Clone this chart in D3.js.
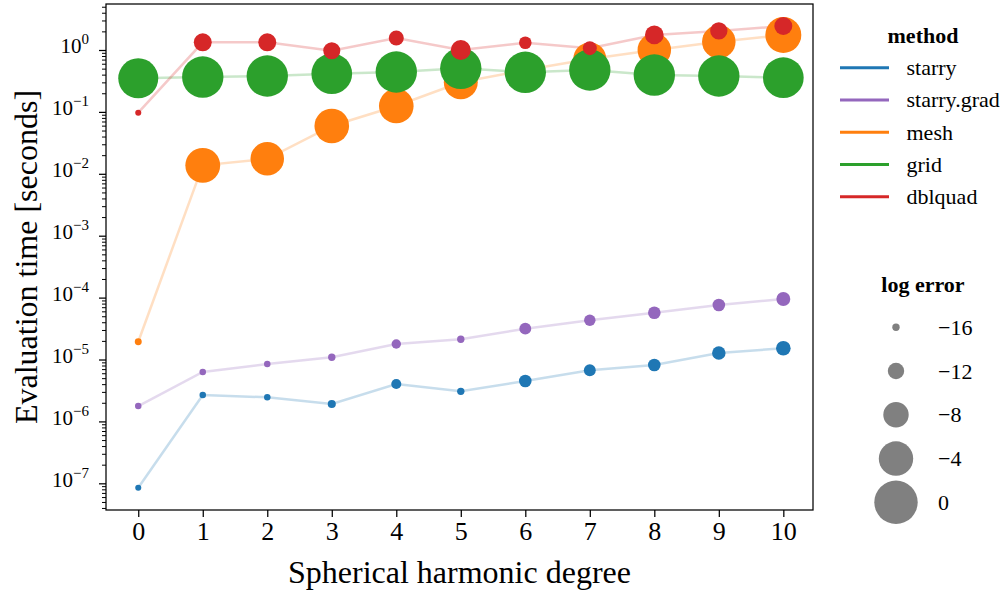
<!DOCTYPE html>
<html><head><meta charset="utf-8">
<script src="https://cdn.jsdelivr.net/npm/d3@7"></script>
<style>
body{margin:0;background:#fff;}
svg{display:block;font-family:"Liberation Serif","Times New Roman",serif;}
</style></head>
<body><svg id="c" width="1008" height="592"></svg>
<script>
const degrees = [0,1,2,3,4,5,6,7,8,9,10];
const methods = ["starry","starry.grad","mesh","grid","dblquad"];
const methodColors = ["#1f77b4","#9467bd","#ff7f0e","#2ca02c","#d62728"];

const starryTime = [8.5e-8,2.67e-6,2.45e-6,1.91e-6,4.02e-6,3.06e-6,4.5e-6,6.7e-6,8.15e-6,1.27e-5,1.52e-5];
const starryErr  = [-16.6,-16.4,-16.4,-15.7,-14.8,-16.0,-13.7,-14.0,-13.7,-13.3,-12.8];
const gradTime   = [1.77e-6,6.28e-6,8.45e-6,1.09e-5,1.78e-5,2.12e-5,3.15e-5,4.3e-5,5.7e-5,7.59e-5,9.48e-5];
const gradErr    = [-16.4,-16.4,-16.4,-16.0,-15.1,-16.0,-14.0,-14.2,-13.7,-13.7,-13.1];
const meshTime   = [1.94e-5,1.37e-2,1.75e-2,5.92e-2,0.1245,0.301,0.475,0.716,1.0,1.36,1.75];
const meshErr    = [-16.2,-3.8,-4.4,-3.9,-3.9,-4.2,-4.2,-4.6,-4.4,-4.4,-3.3];
const gridTime   = [0.349,0.366,0.380,0.414,0.441,0.506,0.436,0.475,0.394,0.380,0.357];
const gridErr    = [-1.5,-0.9,-0.9,-1.2,-0.9,-0.9,-0.9,-0.9,-0.9,-0.9,-1.2];
const dblTime    = [0.097,1.33,1.33,0.974,1.56,1.0,1.31,1.07,1.75,2.03,2.44];
const dblErr     = [-16.6,-11.3,-11.3,-11.7,-12.6,-10.4,-13.7,-13.1,-11.0,-11.6,-11.3];

const sizeLegendValues = [-16,-12,-8,-4,0];
const yDecades = [-7,-6,-5,-4,-3,-2,-1,0];

const seriesTimes = [starryTime, gradTime, meshTime, gridTime, dblTime];
const seriesErrs = [starryErr, gradErr, meshErr, gridErr, dblErr];

const FONT = "Liberation Serif";
const svg = d3.select("#c");
const L = 106, R = 813, T = 4, B = 510;
const x = d3.scaleLinear().domain([-0.5, 10.46]).range([L, R]);
const y = d3.scaleLog().domain([Math.pow(10,-7.431), Math.pow(10,0.743)]).range([B, T]);
const r = d3.scaleLinear().domain([-16, 0]).range([3.7, 21.7]);

// lines
const line = d3.line().x(d => x(d[0])).y(d => y(d[1]));
methods.forEach((m, i) => {
  svg.append("path")
    .datum(degrees.map((d, j) => [d, seriesTimes[i][j]]))
    .attr("d", line)
    .attr("fill", "none")
    .attr("stroke", methodColors[i])
    .attr("stroke-opacity", 0.25)
    .attr("stroke-width", 2.5);
});
// points
methods.forEach((m, i) => {
  svg.append("g").selectAll("circle")
    .data(degrees.map((d, j) => ({d, t: seriesTimes[i][j], e: seriesErrs[i][j]})))
    .join("circle")
    .attr("cx", p => x(p.d))
    .attr("cy", p => y(p.t))
    .attr("r", p => r(p.e))
    .attr("fill", methodColors[i]);
});

// frame
svg.append("rect").attr("x", L).attr("y", T).attr("width", R - L).attr("height", B - T)
  .attr("fill", "none").attr("stroke", "#000").attr("stroke-width", 1.25);

// x axis
const xAxis = svg.append("g").attr("transform", `translate(0,${B})`)
  .call(d3.axisBottom(x).tickValues(degrees).tickFormat(d3.format("d")).tickSize(7).tickPadding(5));
xAxis.select(".domain").remove();
xAxis.selectAll(".tick line").attr("stroke-width", 1.25);
xAxis.selectAll(".tick text").attr("font-size", 26).attr("font-family", FONT).attr("fill", "#000");

// y minor ticks
const minorVals = [];
for (let e = -8; e <= 0; e++) for (let k = 2; k <= 9; k++) {
  const v = k * Math.pow(10, e);
  if (v >= y.domain()[0] && v <= y.domain()[1]) minorVals.push(v);
}
const yMinor = svg.append("g").attr("transform", `translate(${L},0)`)
  .call(d3.axisLeft(y).tickValues(minorVals).tickFormat("").tickSize(4));
yMinor.select(".domain").remove();
yMinor.selectAll(".tick line").attr("stroke-width", 1);

// y major ticks
const yMajor = svg.append("g").attr("transform", `translate(${L},0)`)
  .call(d3.axisLeft(y).tickValues(yDecades.map(e => Math.pow(10, e))).tickSize(7).tickPadding(10).tickFormat(""));
yMajor.select(".domain").remove();
yMajor.selectAll(".tick line").attr("stroke-width", 1.25);
yMajor.selectAll(".tick text").each(function(d) {
  const t = d3.select(this).attr("font-family", FONT).attr("fill", "#000")
    .attr("dy", "0.3em").attr("x", -17);
  const e = Math.round(Math.log10(d));
  t.append("tspan").attr("font-size", 21).text("10");
  t.append("tspan").attr("font-size", 15).attr("dy", -9).text(e < 0 ? "\u2212" + (-e) : String(e));
});

// axis labels
svg.append("text").attr("x", (L + R) / 2).attr("y", 583).attr("text-anchor", "middle")
  .attr("font-family", FONT).attr("font-size", 32).text("Spherical harmonic degree");
svg.append("text").attr("transform", `translate(37,${(T + B) / 2}) rotate(-90)`).attr("text-anchor", "middle")
  .attr("font-family", FONT).attr("font-size", 32).text("Evaluation time [seconds]");

// legend: method
const lg = svg.append("g").attr("font-family", FONT);
lg.append("text").attr("x", 923).attr("y", 43).attr("text-anchor", "middle")
  .attr("font-size", 22).attr("font-weight", "bold").text("method");
methods.forEach((m, i) => {
  const yy = 67.7 + i * 32.25;
  lg.append("line").attr("x1", 840).attr("x2", 889).attr("y1", yy).attr("y2", yy)
    .attr("stroke", methodColors[i]).attr("stroke-width", 3);
  lg.append("text").attr("x", 906.5).attr("y", yy + 7.5).attr("font-size", 22).text(m);
});

// legend: size
lg.append("text").attr("x", 923).attr("y", 291.5).attr("text-anchor", "middle")
  .attr("font-size", 22).attr("font-weight", "bold").text("log error");
sizeLegendValues.forEach((v, i) => {
  const yy = 327.3 + i * 43.75;
  lg.append("circle").attr("cx", 896).attr("cy", yy).attr("r", r(v)).attr("fill", "#808080");
  lg.append("text").attr("x", 938).attr("y", yy + 7.5).attr("font-size", 22)
    .text(v < 0 ? "\u2212" + (-v) : String(v));
});
</script>
</body></html>
